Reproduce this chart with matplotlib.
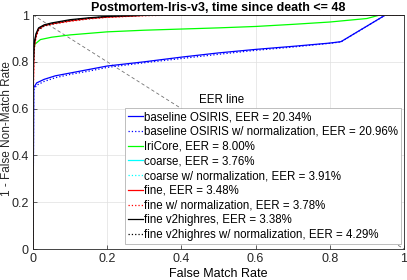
import matplotlib
matplotlib.use("Agg")
import matplotlib.pyplot as plt

plt.rcParams['font.family'] = ['Liberation Sans', 'DejaVu Sans']

title = "Postmortem-Iris-v3, time since death <= 48"
xlabel = "False Match Rate"
ylabel = "1 - False Non-Match Rate"
ticks = [0, 0.2, 0.4, 0.6, 0.8, 1.0]
tick_labels = ["0", "0.2", "0.4", "0.6", "0.8", "1"]

# baseline OSIRIS
fmr_osiris = [0, 0.002, 0.01, 0.03, 0.06, 0.1, 0.15, 0.2, 0.3, 0.4, 0.5, 0.6, 0.7, 0.8, 0.83, 0.95, 1.0]
tmr_osiris = [0, 0.69, 0.71, 0.725, 0.74, 0.752, 0.767, 0.782, 0.80, 0.82, 0.838, 0.853, 0.866, 0.88, 0.886, 1.0, 1.0]
tmr_osiris_n = [0, 0.68, 0.70, 0.716, 0.732, 0.746, 0.76, 0.776, 0.796, 0.814, 0.832, 0.849, 0.863, 0.879, 0.885, 1.0, 1.0]

# IriCore
fmr_iricore = [0, 0.001, 0.005, 0.02, 0.05, 0.1, 0.2, 0.3, 0.4, 0.5, 0.6, 0.7, 0.8, 0.9, 0.935, 1.0]
tmr_iricore = [0, 0.84, 0.875, 0.895, 0.905, 0.915, 0.928, 0.935, 0.94, 0.945, 0.951, 0.96, 0.97, 0.985, 1.0, 1.0]

# CNN-based (coarse / fine / fine v2highres)
fmr_cnn = [0, 0.001, 0.003, 0.008, 0.015, 0.03, 0.05, 0.1, 0.15, 0.2, 0.3, 0.4, 1.0]
tmr_coarse = [0, 0.78, 0.87, 0.915, 0.94, 0.955, 0.963, 0.977, 0.986, 0.993, 0.999, 1.0, 1.0]
tmr_coarse_n = [0, 0.76, 0.86, 0.91, 0.935, 0.952, 0.96, 0.975, 0.984, 0.992, 0.998, 1.0, 1.0]
tmr_fine = [0, 0.70, 0.86, 0.91, 0.94, 0.955, 0.962, 0.975, 0.985, 0.991, 0.998, 1.0, 1.0]
tmr_fine_n = [0, 0.68, 0.85, 0.905, 0.935, 0.952, 0.96, 0.973, 0.983, 0.99, 0.997, 1.0, 1.0]
tmr_v2 = [0, 0.80, 0.88, 0.92, 0.945, 0.958, 0.966, 0.98, 0.988, 0.994, 0.999, 1.0, 1.0]
tmr_v2_n = [0, 0.77, 0.87, 0.913, 0.94, 0.954, 0.962, 0.977, 0.986, 0.993, 0.999, 1.0, 1.0]

labels = [
    "baseline OSIRIS, EER = 20.34%",
    "baseline OSIRIS w/ normalization, EER = 20.96%",
    "IriCore, EER = 8.00%",
    "coarse, EER = 3.76%",
    "coarse w/ normalization, EER = 3.91%",
    "fine, EER = 3.48%",
    "fine w/ normalization, EER = 3.78%",
    "fine v2highres, EER = 3.38%",
    "fine v2highres w/ normalization, EER = 4.29%",
]

fig = plt.figure(figsize=(4.07, 2.80), dpi=100)
ax = fig.add_axes([33/407, 31/280, 371/407, 234/280])

# EER line
ax.plot([0, 1], [1, 0], color=(0.45, 0.45, 0.45), linestyle=(0, (4, 3)), linewidth=0.6, zorder=1)
ax.text(0.509, 0.61, "EER line", ha='center', va='bottom', fontsize=8.3)

lw = 0.9
series = [
    (fmr_osiris, tmr_osiris, (0, 0, 1), '-'),
    (fmr_osiris, tmr_osiris_n, (0, 0, 1), ':'),
    (fmr_iricore, tmr_iricore, (0, 1, 0), '-'),
    (fmr_cnn, tmr_coarse, (0, 1, 1), '-'),
    (fmr_cnn, tmr_coarse_n, (0, 1, 1), ':'),
    (fmr_cnn, tmr_fine, (1, 0, 0), '-'),
    (fmr_cnn, tmr_fine_n, (1, 0, 0), ':'),
    (fmr_cnn, tmr_v2, (0, 0, 0), '-'),
    (fmr_cnn, tmr_v2_n, (0, 0, 0), ':'),
]
handles = []
for (x, y, c, ls), lab in zip(series, labels):
    h, = ax.plot(x, y, color=c, linestyle=ls, linewidth=lw, label=lab, zorder=2)
    handles.append(h)

ax.set_xlim(0, 1)
ax.set_ylim(0, 1)
ax.set_xticks(ticks)
ax.set_xticklabels(tick_labels)
ax.set_yticks(ticks)
ax.set_yticklabels(tick_labels)
ax.tick_params(direction='in', length=3, labelsize=9, width=0.5, colors=(0.15, 0.15, 0.15), pad=3)
ax.grid(True, color=(0.88, 0.88, 0.88), linewidth=0.5)
ax.set_axisbelow(True)
for s in ax.spines.values():
    s.set_color((0.15, 0.15, 0.15))
    s.set_linewidth(0.6)

ax.set_xlabel(xlabel, fontsize=9, labelpad=2)
fig.text(7/407, 1 - 129/280, ylabel, rotation=90, ha='center', va='center',
         fontsize=8.5, color=(0.15, 0.15, 0.15))
ax.set_title(title, fontsize=9, fontweight='bold', pad=3)

leg = ax.legend(handles=handles, loc='lower right', bbox_to_anchor=(0.992, 0.021),
                borderaxespad=0, fontsize=8.3, frameon=True, fancybox=False,
                edgecolor=(0.7, 0.7, 0.7), framealpha=1, labelspacing=0.24,
                handlelength=1.3, handletextpad=0.1, borderpad=0.25)
leg.get_frame().set_linewidth(0.6)
leg.set_zorder(5)

fig.savefig("out.png", dpi=100)
